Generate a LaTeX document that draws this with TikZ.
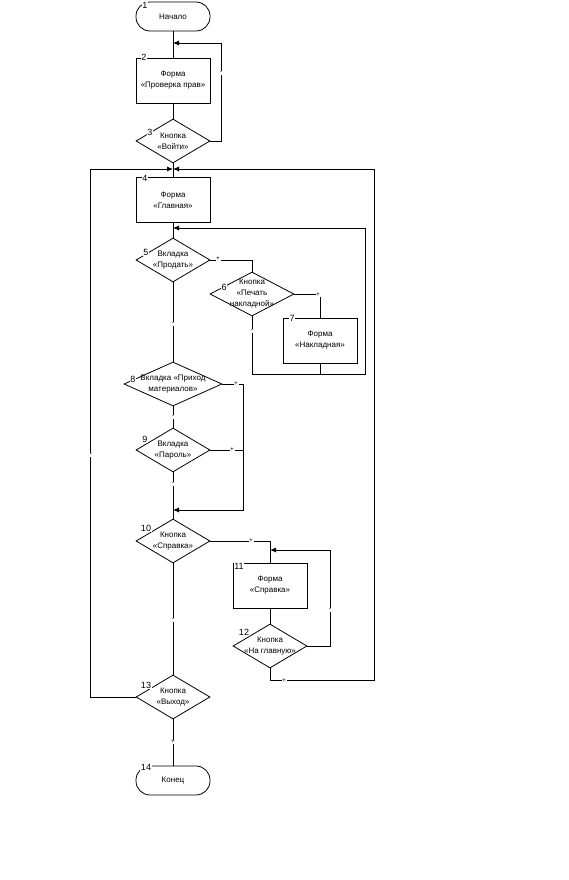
\documentclass[tikz,border=0pt]{standalone}
\usepackage{fontspec}
\setmainfont{Liberation Sans}
\usetikzlibrary{shapes.geometric}
\usetikzlibrary{arrows.meta}

\begin{document}
\begin{tikzpicture}
[every node/.style={font=\fontsize{8}{11}\selectfont},x=1pt,y=-1pt,line width=0.8pt,
  backarrow/.style = {-{Latex[length=6pt,width=5pt]}},
  term/.style = {rectangle,draw,rounded corners=14pt,minimum width=74pt,minimum height=29pt,inner sep=0pt},
  blk/.style = {rectangle,draw,align=center,minimum width=74pt,minimum height=45pt,inner sep=0pt},
  dec/.style = {diamond,draw,minimum width=74pt,minimum height=44pt,inner sep=0pt},
  num/.style = {fill=white,inner sep=0.8pt,font=\fontsize{9}{10}\selectfont},
  sgn/.style = {fill=white,inner sep=0.6pt,font=\fontsize{6.5}{7}\selectfont}]
\useasboundingbox (0,0) rectangle (568,880);

\node[term] (n1) at (173,16.5) {Начало};
\node[blk] (n2) at (173,80.5) {Форма\\«Проверка прав»};
\node[dec,label={[align=center]center:{Кнопка\\«Войти»}}] (n3) at (173,141) {};
\node[blk] (n4) at (173,200) {Форма\\«Главная»};
\node[dec,label={[align=center]center:{Вкладка\\«Продать»}}] (n5) at (173,260) {};
\node[dec,minimum width=84pt,label={[align=center]center:{Кнопка\\«Печать\\накладной»}}] (n6) at (252,294) {};
\node[blk] (n7) at (320,340.5) {Форма\\«Накладная»};
\node[dec,minimum width=98pt,label={[align=center]center:{Вкладка «Приход\\материалов»}}] (n8) at (173,384) {};
\node[dec,label={[align=center]center:{Вкладка\\«Пароль»}}] (n9) at (173,450) {};
\node[dec,label={[align=center]center:{Кнопка\\«Справка»}}] (n10) at (173,541) {};
\node[blk] (n11) at (270,585.5) {Форма\\«Справка»};
\node[dec,label={[align=center]center:{Кнопка\\«На главную»}}] (n12) at (270,646) {};
\node[dec,label={[align=center]center:{Кнопка\\«Выход»}}] (n13) at (173,697) {};
\node[term] (n14) at (173,780.5) {Конец};
%
\coordinate (j2) at (173,43);
\coordinate (j4) at (173,169);
\coordinate (j5) at (173,228);
\coordinate (j10) at (173,510);
\coordinate (j11) at (270,550);
%
   \draw (n1) -- (n2);
   \draw (n2) -- (n3);
   \draw[backarrow] (n3.east) -- ++(11,0) |- (j2);
   \draw (n3) -- (n4);
   \draw (n4) -- (n5);
   \draw (n5.east) -| (n6.north);
   \draw (n6.east) -| (n7.north);
   \draw[backarrow] (n6.south) |- ++(113,58) |- (j5);
   \draw (n7.south) -- ++(0,11);
   \draw (n5) -- (n8);
   \draw[backarrow] (n8.east) -- ++(21,0) |- (j10);
   \draw (n9.east) -- ++(33,0);
   \draw (n8) -- (n9);
   \draw (n9) -- (n10);
   \draw (n10.east) -| (n11.north);
   \draw (n11) -- (n12);
   \draw[backarrow] (n12.east) -- ++(23,0) |- (j11);
   \draw (n10) -- (n13);
   \draw[backarrow] (n13.west) -- ++(-45,0) |- (j4);
   \draw[backarrow] (n12.south) |- ++(104,12) |- (j4);
   \draw (n13) -- (n14);
%
\node[num] (l1) at (145,5) {1};
\node[num] (l2) at (144,57) {2};
\node[num] (l3) at (150,132) {3};
\node[num] (l4) at (145,178) {4};
\node[num] (l5) at (146,252) {5};
\node[num] (l6) at (224,287) {6};
\node[num] (l7) at (292,318) {7};
\node[num] (l8) at (133,379) {8};
\node[num] (l9) at (145,439) {9};
\node[num] (l10) at (146,528) {10};
\node[num] (l11) at (239,566) {11};
\node[num] (l12) at (244,632) {12};
\node[num] (l13) at (146,685) {13};
\node[num] (l14) at (146,767) {14};
%
\node[sgn] (s1) at (221,73) {-};
\node[sgn] (s2) at (218,259) {+};
\node[sgn] (s3) at (318,295) {+};
\node[sgn] (s4) at (252,331) {-};
\node[sgn] (s5) at (173,324) {-};
\node[sgn] (s6) at (236,384) {+};
\node[sgn] (s7) at (173,417) {-};
\node[sgn] (s8) at (232,450) {+};
\node[sgn] (s9) at (173,484) {-};
\node[sgn] (s10) at (251,541) {+};
\node[sgn] (s11) at (330,610) {-};
\node[sgn] (s12) at (173,620) {-};
\node[sgn] (s13) at (284,681) {+};
\node[sgn] (s14) at (91,455) {-};
\node[sgn] (s15) at (173,742) {+};
\end{tikzpicture}
\end{document}
